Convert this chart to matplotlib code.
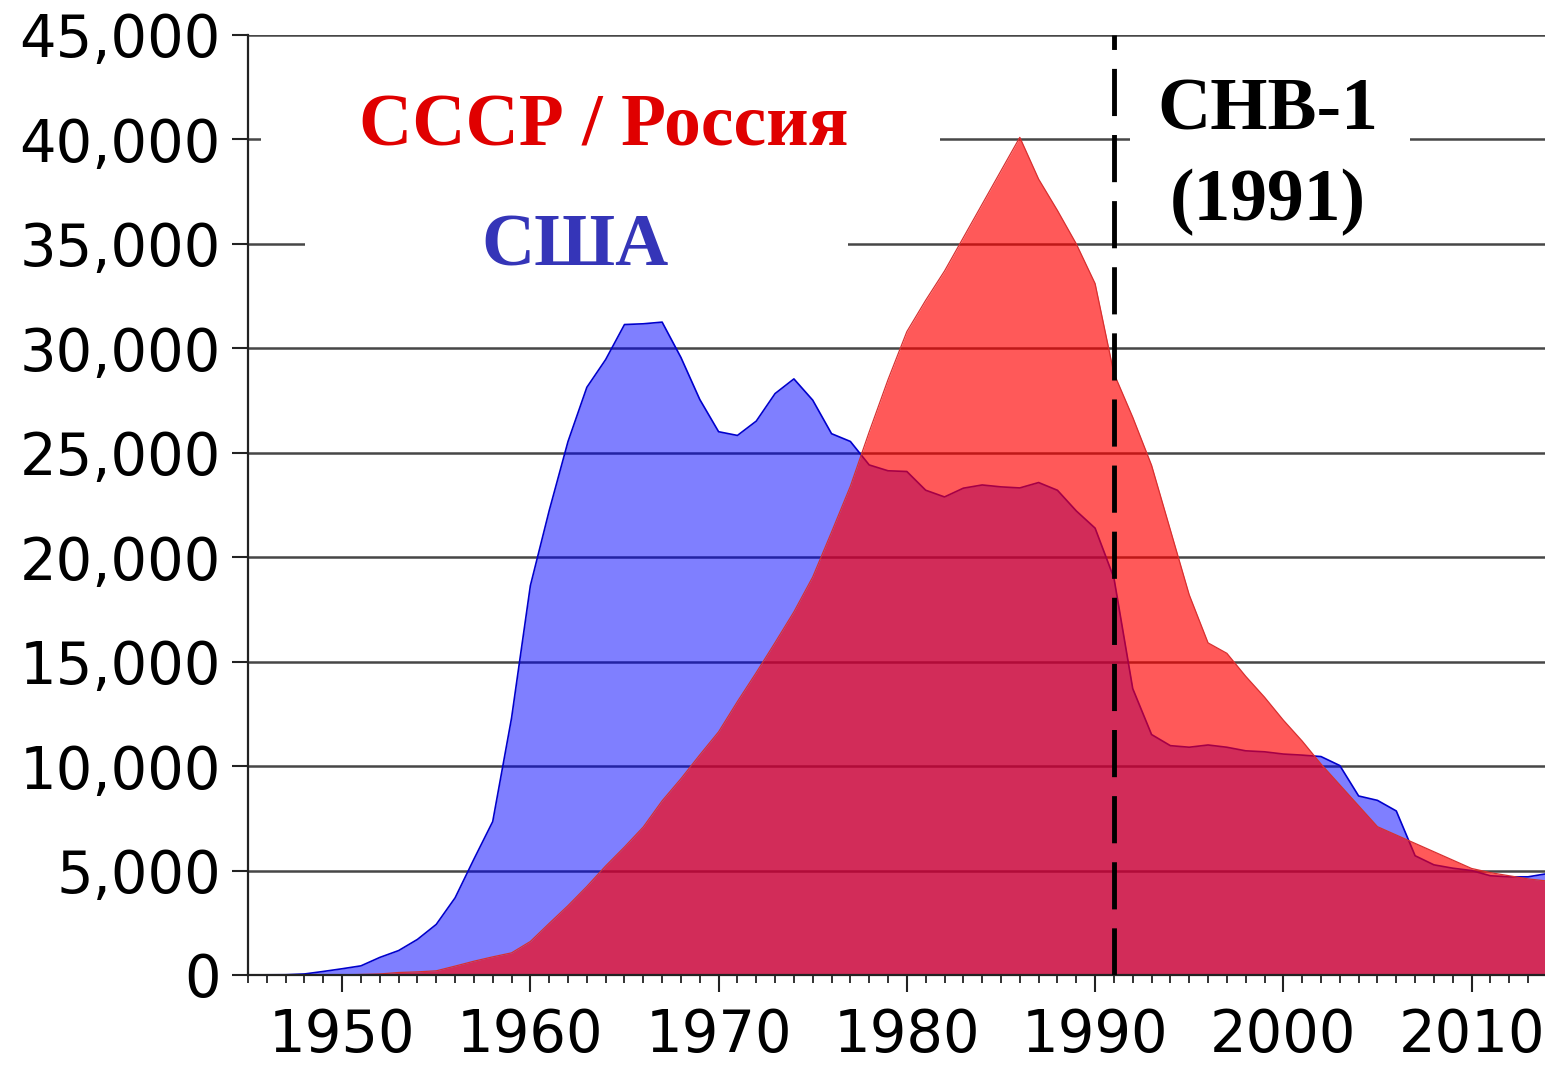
import matplotlib
matplotlib.use("Agg")
import matplotlib.pyplot as plt
from matplotlib.patches import Rectangle
from matplotlib.ticker import MultipleLocator, FuncFormatter

years = list(range(1945, 2015))

usa = [2, 9, 13, 50, 170, 299, 438, 841, 1169, 1703,
       2422, 3692, 5543, 7345, 12298, 18638, 22229, 25540, 28133, 29463,
       31139, 31175, 31255, 29561, 27552, 26008, 25830, 26516, 27835, 28537,
       27519, 25914, 25542, 24418, 24138, 24104, 23208, 22886, 23305, 23459,
       23368, 23317, 23575, 23205, 22217, 21392, 19008, 13708, 11511, 10979,
       10904, 11011, 10903, 10732, 10685, 10577, 10526, 10457, 10027, 8570,
       8360, 7853, 5709, 5273, 5113, 5000, 4750, 4700, 4700, 4850]

ussr = [0, 0, 0, 0, 1, 5, 25, 50, 120, 150,
        200, 426, 660, 869, 1060, 1605, 2471, 3322, 4238, 5221,
        6129, 7089, 8339, 9399, 10538, 11643, 13092, 14478, 15915, 17385,
        19055, 21205, 23400, 26000, 28500, 30800, 32300, 33700, 35300, 36900,
        38500, 40100, 38100, 36600, 35000, 33100, 28800, 26700, 24400, 21300,
        18200, 15900, 15400, 14300, 13300, 12200, 11200, 10100, 9100, 8100,
        7100, 6700, 6300, 5900, 5500, 5100, 4900, 4750, 4600, 4500]

label_ussr = "СССР / Россия"
label_usa = "США"
label_start = "СНВ-1\n(1991)"
start_year = 1991

W, H = 1545, 1065
fig = plt.figure(figsize=(W / 100, H / 100), dpi=100)
ax = fig.add_axes([248 / W, 1 - 975 / H, (W - 248) / W, (975 - 35) / H])

ax.set_axisbelow(True)
ax.yaxis.grid(True, color="#474747", linewidth=1.8)

ax.fill_between(years, usa, color="#0000ff", alpha=0.5, linewidth=0, zorder=1)
ax.plot(years, usa, color="#0000cc", linewidth=1.2, zorder=1.1)
ax.fill_between(years, ussr, color="#ff0000", alpha=0.65, linewidth=0, zorder=2)
ax.plot(years, ussr, color="#d83030", linewidth=0.9, zorder=2.1)

ax.set_xlim(1945, 2013.9)
ax.set_ylim(0, 45000)

ax.xaxis.set_major_locator(MultipleLocator(10))
ax.xaxis.set_minor_locator(MultipleLocator(1))
ax.yaxis.set_major_locator(MultipleLocator(5000))
ax.yaxis.set_major_formatter(FuncFormatter(lambda v, p: f"{int(v):,}"))

for s in ["top", "right"]:
    ax.spines[s].set_visible(False)
for s in ["left", "bottom"]:
    ax.spines[s].set_color("#222222")
    ax.spines[s].set_linewidth(1.6)

ax.tick_params(axis="both", which="major", labelsize=41.5, colors="#222222",
               labelcolor="black", width=1.5)
ax.tick_params(axis="x", which="major", length=12, pad=11)
ax.tick_params(axis="x", which="minor", length=5.5, width=1.3, colors="#222222")
ax.tick_params(axis="y", which="major", length=11.5, pad=8)
for t in ax.get_xticklabels() + ax.get_yticklabels():
    t.set_fontfamily("DejaVu Sans")

# white masks behind the labels (gaps in the grid)
for (x0, x1, y0, y1) in [(0.010, 0.5335, 0.830, 0.963),
                         (0.044, 0.4626, 0.729, 0.824),
                         (0.680, 0.896, 0.824, 0.963)]:
    ax.add_patch(Rectangle((x0, y0), x1 - x0, y1 - y0, transform=ax.transAxes,
                           facecolor="white", edgecolor="none", zorder=3))

serif = ["Liberation Serif", "DejaVu Serif"]
ax.text((604 - 248) / 1297, (975 - 146) / 940, label_ussr, transform=ax.transAxes,
        ha="center", va="baseline", fontsize=53, fontweight="bold",
        family=serif, color="#e00000", zorder=4)
ax.text((575 - 248) / 1297, (975 - 266) / 940, label_usa, transform=ax.transAxes,
        ha="center", va="baseline", fontsize=53, fontweight="bold",
        family=serif, color="#3535b8", zorder=4)
ax.text((1268 - 248) / 1297, (975 - 78) / 940, label_start, transform=ax.transAxes,
        ha="center", va="top", fontsize=53, fontweight="bold",
        family=serif, color="black", zorder=4, linespacing=1.42)

ax.axvline(start_year, color="black", linewidth=3.5,
           linestyle=(0, (9.7, 3.9)), zorder=5)

fig.savefig("out.png", dpi=100)
